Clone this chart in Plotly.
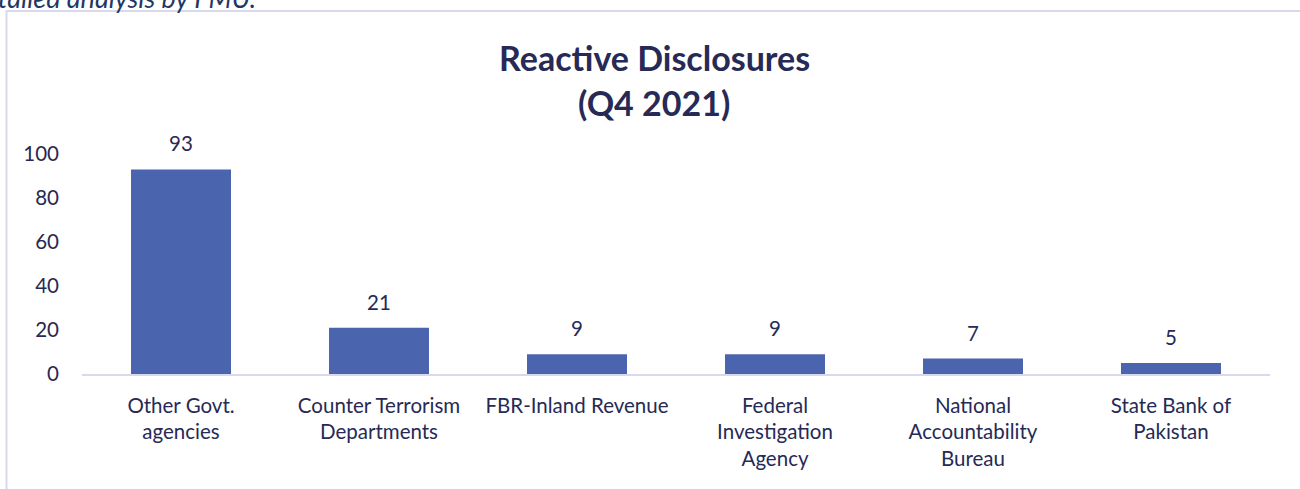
import plotly.graph_objects as go

categories = ["Other Govt.<br>agencies", "Counter Terrorism<br>Departments", "FBR-Inland Revenue",
              "Federal<br>Investigation<br>Agency", "National<br>Accountability<br>Bureau", "State Bank of<br>Pakistan"]
values = [93, 21, 9, 9, 7, 5]
y_ticks = [0, 20, 40, 60, 80, 100]
title_lines = ["Reactive Disclosures", "(Q4 2021)"]
caption = "Detailed analysis by FMU."

FONT = "Lato"
TEXT = "#262a55"
L, R, T, B = 82, 30, 154, 115
W, H = 1300, 489
pw = W - L - R
ph = H - T - B

def px_x(p):
    return (p - L) / pw

def px_y(p):
    return (H - B - p) / ph

xs = list(range(len(values)))

fig = go.Figure(go.Bar(
    x=xs, y=values,
    marker=dict(color="#4b64ae", line=dict(width=0)),
    width=0.505,
))

annotations = [
    dict(text="<b>%s</b>" % title_lines[0], xref="paper", yref="paper",
         x=px_x(654), y=px_y(57), showarrow=False, xanchor="center", yanchor="middle",
         font=dict(family=FONT, size=34, color=TEXT)),
    dict(text="<b>%s</b>" % title_lines[1], xref="paper", yref="paper",
         x=px_x(654), y=px_y(103), showarrow=False, xanchor="center", yanchor="middle",
         font=dict(family=FONT, size=34, color=TEXT)),
    dict(text="<i>%s</i>" % caption, xref="paper", yref="paper",
         x=px_x(258), y=px_y(-3), showarrow=False, xanchor="right", yanchor="middle",
         font=dict(family=FONT, size=27, color="#1f3864")),
]
for xv, v in zip(xs, values):
    annotations.append(dict(text=str(v), x=xv, y=v, xref="x", yref="y", showarrow=False,
                            xanchor="center", yanchor="bottom", yshift=12,
                            font=dict(family=FONT, size=20.5, color=TEXT)))

fig.update_layout(
    width=W, height=H,
    margin=dict(l=L, r=R, t=T, b=B),
    paper_bgcolor="white", plot_bgcolor="white",
    showlegend=False,
    xaxis=dict(
        tickmode="array", tickvals=xs, ticktext=categories,
        range=[-0.5, len(values) - 0.5],
        showline=True, linecolor="#d9d9ee", linewidth=2,
        showgrid=False, zeroline=False, ticks="",
        tickfont=dict(family=FONT, size=20.5, color=TEXT),
        ticklabelstandoff=12,
    ),
    yaxis=dict(
        range=[0, 100], tickvals=y_ticks,
        showline=False, showgrid=False, zeroline=False, ticks="",
        tickfont=dict(family=FONT, size=20.5, color=TEXT),
        ticklabelstandoff=22,
    ),
    shapes=[dict(type="rect", xref="paper", yref="paper",
                 x0=px_x(6.5), x1=px_x(1310), y0=px_y(11), y1=px_y(520),
                 line=dict(color="#d9d9ee", width=2), fillcolor="rgba(0,0,0,0)", layer="below")],
    annotations=annotations,
)

fig.write_html("out.html")
